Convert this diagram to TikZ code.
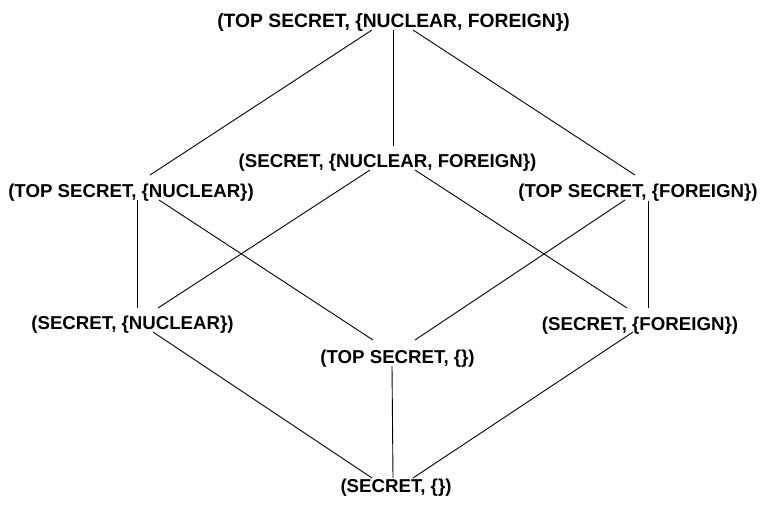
\documentclass[tikz,border=0pt]{standalone}
\usepackage{fontspec}
\setmainfont{Liberation Sans}
\begin{document}
\begin{tikzpicture}[x=1pt,y=-1pt,
  lbl/.style={anchor=base,inner sep=0pt,font=\fontsize{18.67}{22}\selectfont\bfseries},
  edge/.style={line width=0.9pt,black}]
\useasboundingbox (0,0) rectangle (762,504);

% lattice elements
\node[lbl,font=\fontsize{19.3}{22}\selectfont\bfseries] (top) at (393.5,27) {(TOP SECRET, \{NUCLEAR, FOREIGN\})};
\node[lbl] (snf) at (387.5,167) {(SECRET, \{NUCLEAR, FOREIGN\})};
\node[lbl] (tsn) at (131,197)   {(TOP SECRET, \{NUCLEAR\})};
\node[lbl] (tsf) at (638,197)   {(TOP SECRET, \{FOREIGN\})};
\node[lbl] (sn)  at (132.5,329) {(SECRET, \{NUCLEAR\})};
\node[lbl] (sf)  at (640,330)   {(SECRET, \{FOREIGN\})};
\node[lbl] (ts0) at (397.5,363) {(TOP SECRET, \{\})};
\node[lbl] (s0)  at (396,492)   {(SECRET, \{\})};

% ordering relations
\draw[edge] ([shift={(-21.5,3)}]top.base) -- ([shift={(19,-22)}]tsn.base);
\draw[edge] ([shift={(-0.5,3)}]top.base)  -- ([shift={(5.5,-21)}]snf.base);
\draw[edge] ([shift={(19.5,3)}]top.base)  -- ([shift={(-3,-22)}]tsf.base);

\draw[edge] ([shift={(6,3)}]tsn.base)     -- ([shift={(4.5,-21)}]sn.base);
\draw[edge] ([shift={(28,3)}]tsn.base)    -- ([shift={(-24.5,-23)}]ts0.base);
\draw[edge] ([shift={(-17.5,3)}]snf.base) -- ([shift={(25.5,-21)}]sn.base);
\draw[edge] ([shift={(27.5,3)}]snf.base)  -- ([shift={(-13,-22)}]sf.base);
\draw[edge] ([shift={(-13,3)}]tsf.base)   -- ([shift={(17.5,-23)}]ts0.base);
\draw[edge] ([shift={(10,4)}]tsf.base)    -- ([shift={(8,-22)}]sf.base);

\draw[edge] ([shift={(20.5,3)}]sn.base)   -- ([shift={(-24,-14)}]s0.base);
\draw[edge] ([shift={(-5.5,3)}]ts0.base)  -- ([shift={(-3,-14)}]s0.base);
\draw[edge] ([shift={(-7,2)}]sf.base)     -- ([shift={(17,-14)}]s0.base);
\end{tikzpicture}
\end{document}
